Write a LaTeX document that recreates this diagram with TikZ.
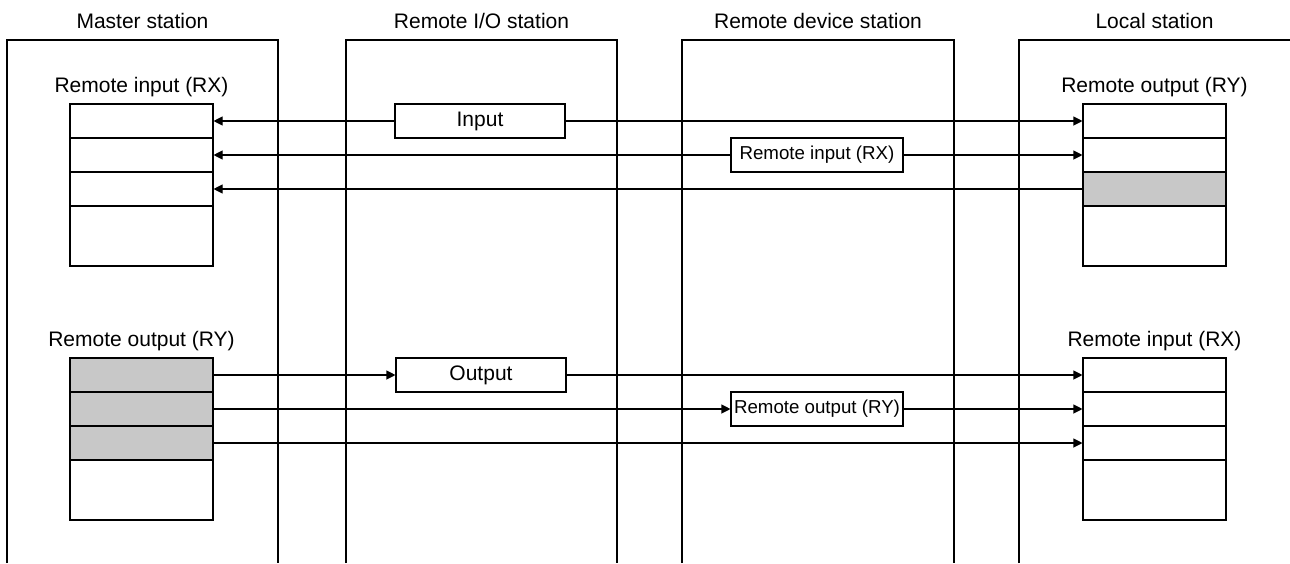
\documentclass[tikz,border=0pt]{standalone}
\usepackage{fontspec}
\setmainfont{Liberation Sans}
\usetikzlibrary{arrows.meta,positioning}

\definecolor{regfill}{RGB}{200,200,200}

\begin{document}
\begin{tikzpicture}[x=1pt, y=-1pt, line width=1.1pt,
    cell/.style={draw, minimum width=143pt, minimum height=34pt, inner sep=0pt},
    tail/.style={draw, minimum width=143pt, minimum height=60pt, inner sep=0pt},
    sig/.style={draw, fill=white, minimum height=34pt, inner sep=0pt, font=\fontsize{21}{25}\selectfont},
    small/.style={font=\fontsize{18.7}{22}\selectfont},
    lbl/.style={anchor=base, font=\fontsize{21}{25}\selectfont},
    arr/.style={-{Triangle[length=9pt,width=9pt]}}]
    \useasboundingbox (0,0) rectangle (1290,563);

    % Stations
    \draw (7,563) |- (278,40) -- (278,563);
    \draw (346,563) |- (617,40) -- (617,563);
    \draw (682,563) |- (954,40) -- (954,563);
    \draw (1019,563) |- (1290,40);
    \node[lbl] (mst) at (142.5,28) {Master station};
    \node[lbl] (rio) at (481.5,28) {Remote I/O station};
    \node[lbl] (rdv) at (818,28) {Remote device station};
    \node[lbl] (lcl) at (1154.5,28) {Local station};

    % Registers
    \node[lbl] (mxl) at (141.5,92) {Remote input (RX)};
    \node[lbl] (myl) at (141.5,346) {Remote output (RY)};
    \node[lbl] (lyl) at (1154.5,92) {Remote output (RY)};
    \node[lbl] (lxl) at (1154.5,346) {Remote input (RX)};
    \foreach \r in {1,2,3} {
        \node[cell] (mi\r) at (141.5, 87+34*\r) {};
        \node[cell, fill=regfill] (mo\r) at (141.5, 341+34*\r) {};
        \node[cell] (li\r) at (1154.5, 341+34*\r) {};
    }
    \node[cell] (lo1) at (1154.5,121) {};
    \node[cell] (lo2) at (1154.5,155) {};
    \node[cell, fill=regfill] (lo3) at (1154.5,189) {};
    \node[tail] (mi4) at (141.5,236) {};
    \node[tail] (lo4) at (1154.5,236) {};
    \node[tail] (mo4) at (141.5,490) {};
    \node[tail] (li4) at (1154.5,490) {};

    % Signals
    \node[sig, minimum width=170pt] (inp) at (480,121) {Input};
    \node[sig, small, minimum width=172pt] (rx) at (817,155) {Remote input (RX)};
    \node[sig, minimum width=170pt] (outp) at (481,375) {Output};
    \node[sig, small, minimum width=172pt] (ry) at (817,409) {Remote output (RY)};

    \draw[arr] (inp) -- (mi1.east);
    \draw[arr] (inp) -- (lo1.west);
    \draw[arr] (rx) -- (mi2.east);
    \draw[arr] (rx) -- (lo2.west);
    \draw[arr] (lo3.west) -- (mi3.east);

    \draw[arr] (mo1.east) -- (outp);
    \draw[arr] (outp) -- (li1.west);
    \draw[arr] (mo2.east) -- (ry);
    \draw[arr] (ry) -- (li2.west);
    \draw[arr] (mo3.east) -- (li3.west);
\end{tikzpicture}
\end{document}
